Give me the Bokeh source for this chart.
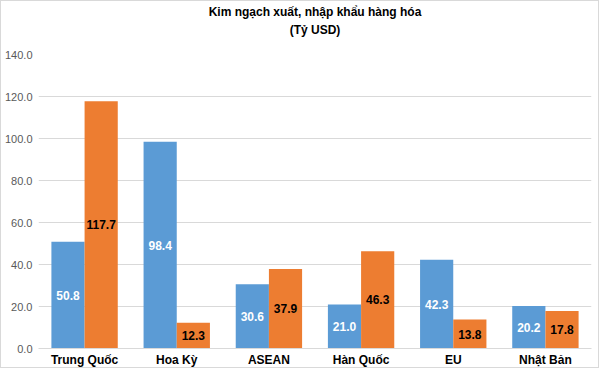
from bokeh.plotting import figure
from bokeh.models import ColumnDataSource, LabelSet, Title, NumeralTickFormatter, FixedTicker, Range1d
from bokeh.transform import dodge
from bokeh.core.properties import value
from bokeh.embed import file_html
from bokeh.resources import INLINE

categories = ["Trung Quốc", "Hoa Kỳ", "ASEAN", "Hàn Quốc", "EU", "Nhật Bản"]
xuat_khau = [50.8, 98.4, 30.6, 21.0, 42.3, 20.2]
nhap_khau = [117.7, 12.3, 37.9, 46.3, 13.8, 17.8]
y_ticks = [0, 20, 40, 60, 80, 100, 120, 140]

src = ColumnDataSource(dict(
    cat=categories,
    xk=xuat_khau,
    nk=nhap_khau,
    xk_mid=[v / 2 for v in xuat_khau],
    nk_mid=[v / 2 for v in nhap_khau],
    xk_txt=[f"{v:.1f}" for v in xuat_khau],
    nk_txt=[f"{v:.1f}" for v in nhap_khau],
))

FONT = "Liberation Sans"

p = figure(x_range=categories, y_range=Range1d(0, 140), width=599, height=368,
           output_backend="svg", toolbar_location=None,
           min_border_left=32, min_border_right=9, min_border_bottom=10, min_border_top=5)
p.styles = {"border": "1px solid #d9d9d9"}

# spacer between title and plot area
p.add_layout(Title(text=" ", align="center", text_font=FONT, text_font_size="10px", standoff=5), "above")
p.add_layout(Title(text="(Tỷ USD)", align="center", text_font=FONT, text_font_size="12px",
                   text_font_style="bold", text_color="#000000", standoff=0), "above")
p.add_layout(Title(text="Kim ngạch xuất, nhập khẩu hàng hóa", align="center", text_font=FONT,
                   text_font_size="12px", text_font_style="bold", text_color="#000000", standoff=3), "above")

p.vbar(x=dodge("cat", -0.18, range=p.x_range), top="xk", width=0.36, source=src,
       color="#5B9BD5", line_color=None)
p.vbar(x=dodge("cat", 0.18, range=p.x_range), top="nk", width=0.36, source=src,
       color="#ED7D31", line_color=None)

p.add_layout(LabelSet(x=dodge("cat", -0.18, range=p.x_range), y="xk_mid", text="xk_txt", source=src,
                      text_align="center", text_baseline="middle", text_color="white",
                      text_font=value(FONT), text_font_size="12px", text_font_style="bold"))
p.add_layout(LabelSet(x=dodge("cat", 0.18, range=p.x_range), y="nk_mid", text="nk_txt", source=src,
                      text_align="center", text_baseline="middle", text_color="black",
                      text_font=value(FONT), text_font_size="12px", text_font_style="bold"))

p.x_range.range_padding = 0
p.outline_line_color = None
p.xgrid.grid_line_color = None
p.ygrid.grid_line_color = "#d9d9d9"
p.yaxis.ticker = FixedTicker(ticks=y_ticks)
p.yaxis.formatter = NumeralTickFormatter(format="0.0")
p.yaxis.axis_line_color = None
p.yaxis.major_tick_line_color = None
p.yaxis.minor_tick_line_color = None
p.yaxis.major_tick_out = 0
p.yaxis.minor_tick_out = 0
p.yaxis.major_label_text_font = FONT
p.yaxis.major_label_text_font_size = "11px"
p.yaxis.major_label_text_color = "#595959"
p.yaxis.major_label_standoff = 6
p.xaxis.axis_line_color = "#d9d9d9"
p.xaxis.major_tick_line_color = None
p.xaxis.minor_tick_line_color = None
p.xaxis.major_tick_out = 0
p.xaxis.minor_tick_out = 0
p.xaxis.major_label_text_font = FONT
p.xaxis.major_label_text_font_size = "12px"
p.xaxis.major_label_text_font_style = "bold"
p.xaxis.major_label_text_color = "#000000"
p.xaxis.major_label_standoff = 4
p.xaxis.major_label_text_line_height = 1.0

open("out.html", "w").write(file_html(p, INLINE))
